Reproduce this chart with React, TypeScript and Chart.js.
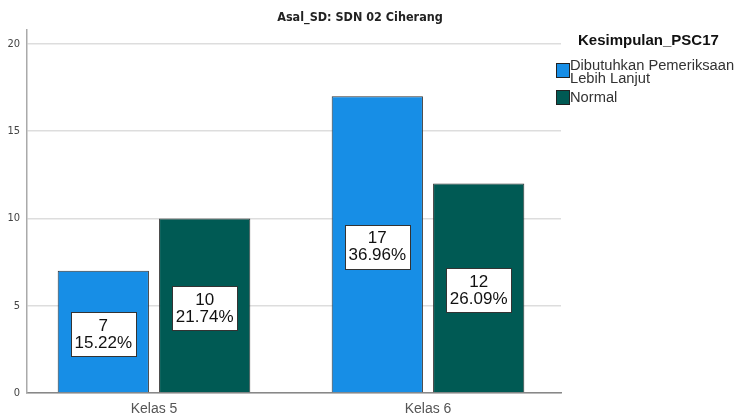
import React, { useEffect, useRef } from "react";
import { Chart, registerables } from "chart.js";

Chart.register(...registerables);

const categories = ["Kelas 5", "Kelas 6"];
const seriesNames = ["Dibutuhkan Pemeriksaan|Lebih Lanjut", "Normal"];
const seriesDibutuhkan = [7, 17];
const seriesNormal = [10, 12];
const yTicks = [0, 5, 10, 15, 20];
const chartTitle = "Asal_SD: SDN 02 Ciherang";
const legendTitle = "Kesimpulan_PSC17";
const colors = ["#178ee6", "#005a54"];

const total = [...seriesDibutuhkan, ...seriesNormal].reduce((a, b) => a + b, 0);

export default function App() {
  const ref = useRef<HTMLCanvasElement | null>(null);
  useEffect(() => {
    document.body.style.margin = "0";
    const canvas = ref.current!;
    const labelPlugin = {
      id: "barLabels",
      afterDatasetsDraw(chart: any) {
        const ctx = chart.ctx;
        chart.data.datasets.forEach((ds: any, di: number) => {
          const meta = chart.getDatasetMeta(di);
          meta.data.forEach((bar: any, i: number) => {
            const v = ds.data[i].y;
            const pct = ((v / total) * 100).toFixed(2) + "%";
            const cy = (bar.y + bar.base) / 2 + 2.5;
            const w = 65, h = 44;
            ctx.save();
            ctx.fillStyle = "#ffffff";
            ctx.strokeStyle = "#333333";
            ctx.lineWidth = 1;
            const bx = Math.round(bar.x - w / 2) + 0.5;
            const by = Math.round(cy - h / 2) + 0.5;
            ctx.fillRect(bx, by, w, h);
            ctx.strokeRect(bx, by, w, h);
            ctx.fillStyle = "#111111";
            ctx.font = "17px 'Liberation Sans', Arial, sans-serif";
            ctx.textAlign = "center";
            ctx.textBaseline = "middle";
            ctx.fillText(String(v), bar.x, cy - 8);
            ctx.fillText(pct, bar.x, cy + 9);
            ctx.restore();
          });
        });
      },
      afterDraw(chart: any) {
        const ctx = chart.ctx;
        ctx.save();
        ctx.fillStyle = "#222222";
        ctx.font = "bold 12.5px 'Liberation Sans Narrow', 'DejaVu Sans Condensed', Arial, sans-serif";
        ctx.textAlign = "center";
        ctx.textBaseline = "alphabetic";
        ctx.fillText(chartTitle, 360, 21);
        ctx.textAlign = "left";
        ctx.font = "bold 15px 'Liberation Sans', Arial, sans-serif";
        ctx.fillStyle = "#111111";
        ctx.fillText(legendTitle, 578, 45);
        ctx.font = "14.7px 'Liberation Sans', Arial, sans-serif";
        const boxTops = [63, 90];
        const baselines = [[70, 83], [102]];
        seriesNames.forEach((name, i) => {
          const top = boxTops[i];
          ctx.fillStyle = colors[i];
          ctx.fillRect(556.5, top + 0.5, 13, 14);
          ctx.strokeStyle = "#222222";
          ctx.lineWidth = 1;
          ctx.strokeRect(556.5, top + 0.5, 13, 14);
          ctx.fillStyle = "#333333";
          const lines = name.split("|");
          lines.forEach((ln, j) => {
            ctx.fillText(ln, 570, baselines[i][j]);
          });
        });
        ctx.restore();
      },
    };

    const chart = new Chart(canvas, {
      type: "bar",
      data: {
        datasets: [
          {
            label: seriesNames[0],
            data: seriesDibutuhkan.map((v, i) => ({ x: i, y: v })),
            backgroundColor: colors[0],
            borderColor: "#333333",
            borderWidth: 1,
          },
          {
            label: seriesNames[1],
            data: seriesNormal.map((v, i) => ({ x: i, y: v })),
            backgroundColor: colors[1],
            borderColor: "#333333",
            borderWidth: 1,
          },
        ],
      },
      options: {
        animation: false,
        responsive: false,
        layout: { padding: { top: 30, right: 173, left: 0, bottom: 0 } },
        categoryPercentage: 0.74,
        barPercentage: 0.9,
        plugins: {
          legend: { display: false },
          title: { display: false },
          tooltip: { enabled: false },
        },
        scales: {
          x: {
            type: "linear",
            offset: false,
            min: -0.4635,
            max: 1.4854,
            afterBuildTicks: (s: any) => {
              s.ticks = categories.map((_, i) => ({ value: i }));
            },
            afterFit: (s: any) => {
              s.height = 23;
            },
            grid: { display: false, drawTicks: false, offset: false },
            border: { display: true, color: "#888888", width: 1.5 },
            ticks: {
              padding: 8,
              color: "#555555",
              font: { family: "'Liberation Sans', Arial, sans-serif", size: 14 },
              callback: (v: any) => categories[v] ?? "",
            },
          },
          y: {
            type: "linear",
            min: 0,
            max: 20.8,
            afterBuildTicks: (s: any) => {
              s.ticks = yTicks.map((v) => ({ value: v }));
            },
            afterFit: (s: any) => {
              s.width = 27;
            },
            grid: { color: "#dddddd", lineWidth: 1.5, drawTicks: false },
            border: { display: true, color: "#aaaaaa", width: 1.5 },
            ticks: {
              padding: 7,
              color: "#444444",
              font: { family: "'Liberation Sans Narrow', 'DejaVu Sans Condensed', Arial, sans-serif", size: 11 },
            },
          },
        },
      } as any,
      plugins: [labelPlugin],
    });
    return () => chart.destroy();
  }, []);

  return (
    <div style={{ position: "fixed", left: 0, top: 0, width: 734, height: 416, background: "#fff" }}>
      <canvas ref={ref} width={734} height={416} style={{ width: 734, height: 416 }} />
    </div>
  );
}
